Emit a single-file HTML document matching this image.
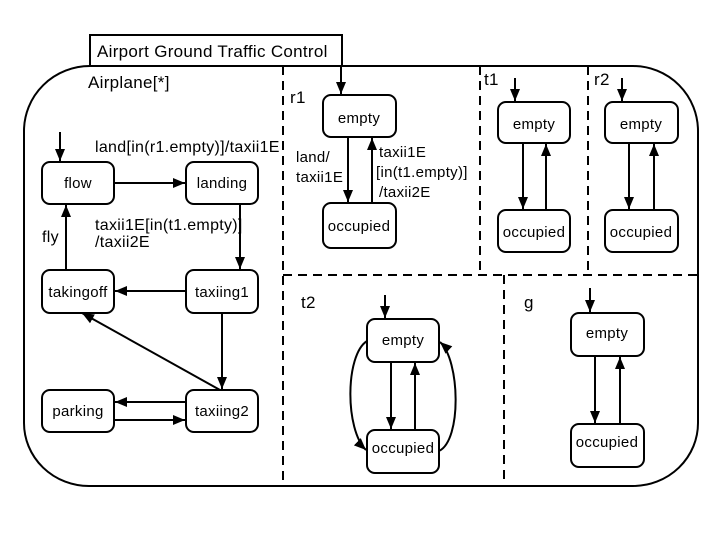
<!DOCTYPE html>
<html><head><meta charset="utf-8"><style>
html,body{margin:0;padding:0;background:#fff}
svg{display:block}
text{font-family:"Liberation Sans",sans-serif;font-size:15px;fill:#000;letter-spacing:0.3px}
</style></head><body>
<svg width="720" height="540" viewBox="0 0 720 540" xmlns="http://www.w3.org/2000/svg">
<defs>
<marker id="a" markerWidth="13" markerHeight="12" refX="12" refY="6" orient="auto" markerUnits="userSpaceOnUse">
<path d="M0,1 L12,6 L0,11 z" fill="#000"/></marker>
</defs>
<g fill="none" stroke="#000" stroke-width="2">
<rect x="90" y="35" width="252" height="31" fill="#fff"/>
<path d="M90,66 L633,66 A65,65 0 0 1 698,131 L698,423 A65,63 0 0 1 633,486 L89,486 A65,63 0 0 1 24,423 L24,131 A66,65 0 0 1 90,66 Z"/>
</g>
<g stroke="#000" stroke-width="2" stroke-dasharray="9,6" fill="none">
<line x1="283" y1="66" x2="283" y2="486"/>
<line x1="283" y1="275" x2="698" y2="275"/>
<line x1="480" y1="66" x2="480" y2="275"/>
<line x1="588" y1="66" x2="588" y2="275"/>
<line x1="504" y1="275" x2="504" y2="486"/>
</g>
<text x="97" y="57" style="font-size:17px">Airport Ground Traffic Control</text>
<text x="88" y="88" style="font-size:17px">Airplane[*]</text>
<g fill="#fff" stroke="#000" stroke-width="2">
<rect x="42" y="162" width="72" height="42" rx="8"/>
<rect x="186" y="162" width="72" height="42" rx="8"/>
<rect x="42" y="270" width="72" height="43" rx="8"/>
<rect x="186" y="270" width="72" height="43" rx="8"/>
<rect x="42" y="390" width="72" height="42" rx="8"/>
<rect x="186" y="390" width="72" height="42" rx="8"/>
<rect x="323" y="95" width="73" height="42" rx="8"/>
<rect x="323" y="203" width="73" height="45" rx="8"/>
<rect x="498" y="102" width="72" height="41" rx="8"/>
<rect x="498" y="210" width="72" height="42" rx="8"/>
<rect x="605" y="102" width="73" height="41" rx="8"/>
<rect x="605" y="210" width="73" height="42" rx="8"/>
<rect x="367" y="319" width="72" height="43" rx="8"/>
<rect x="367" y="430" width="72" height="43" rx="8"/>
<rect x="571" y="313" width="73" height="43" rx="8"/>
<rect x="571" y="424" width="73" height="43" rx="8"/>
</g>
<g stroke="#000" stroke-width="2" fill="none" marker-end="url(#a)">
<line x1="60" y1="132" x2="60" y2="161"/>
<line x1="114" y1="183" x2="185" y2="183"/>
<line x1="240" y1="204" x2="240" y2="269"/>
<line x1="186" y1="291" x2="115" y2="291"/>
<line x1="66" y1="270" x2="66" y2="205"/>
<line x1="222" y1="313" x2="222" y2="389"/>
<line x1="220" y1="390" x2="82" y2="313"/>
<line x1="186" y1="402" x2="115" y2="402"/>
<line x1="114" y1="420" x2="185" y2="420"/>
<line x1="341" y1="66" x2="341" y2="94"/>
<line x1="348" y1="137" x2="348" y2="202"/>
<line x1="372" y1="203" x2="372" y2="138"/>
<line x1="515" y1="78" x2="515" y2="101"/>
<line x1="523" y1="143" x2="523" y2="209"/>
<line x1="546" y1="210" x2="546" y2="144"/>
<line x1="622" y1="78" x2="622" y2="101"/>
<line x1="629" y1="143" x2="629" y2="209"/>
<line x1="654" y1="210" x2="654" y2="144"/>
<line x1="385" y1="295" x2="385" y2="318"/>
<line x1="391" y1="362" x2="391" y2="429"/>
<line x1="415" y1="430" x2="415" y2="363"/>
<path d="M367,341 C345,355 345,430 366,450"/>
<path d="M439,451 C462,440 460,360 440,342"/>
<line x1="590" y1="288" x2="590" y2="312"/>
<line x1="595" y1="356" x2="595" y2="423"/>
<line x1="620" y1="424" x2="620" y2="357"/>
</g>
<text x="95" y="152" style="font-size:16px">land[in(r1.empty)]/taxii1E</text>
<text x="95" y="230" style="font-size:16px">taxii1E[in(t1.empty)]</text>
<text x="95" y="247" style="font-size:16px">/taxii2E</text>
<text x="42" y="242" style="font-size:16px">fly</text>
<text x="78" y="188" text-anchor="middle">flow</text>
<text x="222" y="188" text-anchor="middle">landing</text>
<text x="78" y="297" text-anchor="middle">takingoff</text>
<text x="222" y="297" text-anchor="middle">taxiing1</text>
<text x="78" y="416" text-anchor="middle">parking</text>
<text x="222" y="416" text-anchor="middle">taxiing2</text>
<text x="290" y="103" style="font-size:17px">r1</text>
<text x="359" y="123" text-anchor="middle">empty</text>
<text x="359" y="231" text-anchor="middle">occupied</text>
<text x="296" y="162">land/</text>
<text x="296" y="182">taxii1E</text>
<text x="379" y="157">taxii1E</text>
<text x="376" y="177">[in(t1.empty)]</text>
<text x="379" y="197">/taxii2E</text>
<text x="484" y="85" style="font-size:17px">t1</text>
<text x="534" y="129" text-anchor="middle">empty</text>
<text x="534" y="237" text-anchor="middle">occupied</text>
<text x="594" y="85" style="font-size:17px">r2</text>
<text x="641" y="129" text-anchor="middle">empty</text>
<text x="641" y="237" text-anchor="middle">occupied</text>
<text x="301" y="308" style="font-size:17px">t2</text>
<text x="403" y="345" text-anchor="middle">empty</text>
<text x="403" y="453" text-anchor="middle">occupied</text>
<text x="524" y="308" style="font-size:17px">g</text>
<text x="607" y="338" text-anchor="middle">empty</text>
<text x="607" y="447" text-anchor="middle">occupied</text>
</svg>
</body></html>
